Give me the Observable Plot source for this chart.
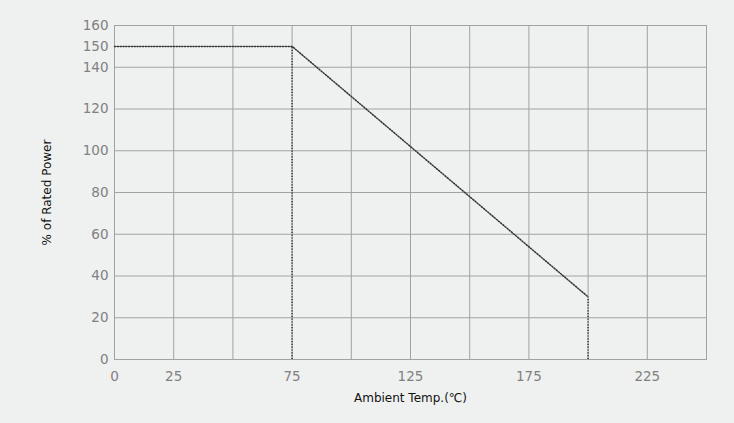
<!DOCTYPE html>
<html>
<head>
<meta charset="utf-8">
<script src="https://cdn.jsdelivr.net/npm/d3@7"></script>
<script src="https://cdn.jsdelivr.net/npm/@observablehq/plot@0.6"></script>
<style>
  html, body { margin: 0; padding: 0; background: #f7f8f7; }
  #chart svg { display: block; }
</style>
</head>
<body>
<div id="chart"></div>
<script>
// Data
const xGrid = [25, 50, 75, 100, 125, 150, 175, 200, 225];
const yGrid = [20, 40, 60, 80, 100, 120, 140];
const xTickLabels = [0, 25, 75, 125, 175, 225];
const yTickLabels = [0, 20, 40, 60, 80, 100, 120, 140, 150, 160];
const curveTemp = [0, 75, 200];
const curvePower = [150, 150, 30];
const dropTemp = [75, 200];
const dropPower = [150, 30];

const curve = curveTemp.map((t, i) => ({t, p: curvePower[i]}));
const drops = dropTemp.map((t, i) => ({t, p: dropPower[i]}));

const chart = Plot.plot({
  width: 734,
  height: 423,
  marginLeft: 114,
  marginRight: 28,
  marginTop: 25,
  marginBottom: 64,
  style: {background: "#eff1f0", fontFamily: "DejaVu Sans, sans-serif"},
  x: {domain: [0, 250]},
  y: {domain: [0, 160]},
  marks: [
    Plot.ruleX(xGrid, {stroke: "#a2a2a2", strokeWidth: 1}),
    Plot.ruleY(yGrid, {stroke: "#a2a2a2", strokeWidth: 1}),
    Plot.frame({stroke: "#a2a2a2", strokeWidth: 1}),
    Plot.axisX(xTickLabels, {
      tickSize: 0, tickPadding: 12, fontSize: 13.5, fill: "#808080",
      label: "Ambient Temp.(℃)", labelAnchor: "center", labelArrow: "none", labelOffset: 42
    }),
    Plot.axisY(yTickLabels, {
      tickSize: 0, tickPadding: 6, fontSize: 13.5, fill: "#808080",
      label: "% of Rated Power", labelAnchor: "center", labelArrow: "none", labelOffset: 72
    }),
    Plot.line(curve, {x: "t", y: "p", stroke: "#333", strokeWidth: 1.5, strokeDasharray: "1.2,1.6"}),
    Plot.ruleX(drops, {x: "t", y1: 0, y2: "p", stroke: "#333", strokeWidth: 1.5, strokeDasharray: "1.2,1.6"})
  ]
});
document.getElementById("chart").appendChild(chart);
// axis labels in black
chart.querySelectorAll("g[aria-label='x-axis label'] text, g[aria-label='y-axis label'] text").forEach(t => {
  t.setAttribute("fill", "#111");
  t.style.fontSize = "12px";
});
</script>
</body>
</html>
